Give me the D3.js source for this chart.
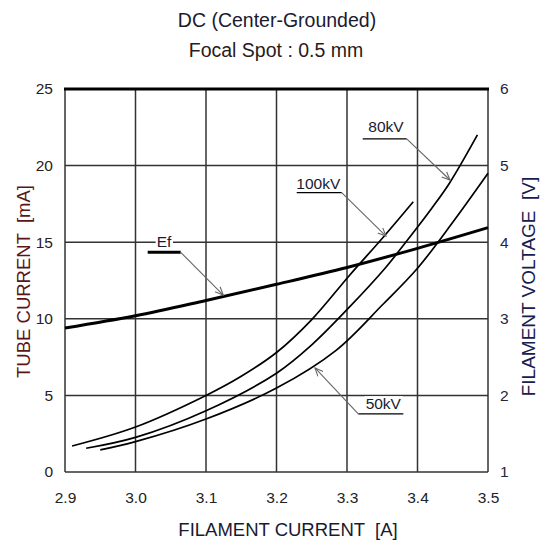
<!DOCTYPE html>
<html><head><meta charset="utf-8">
<script src="https://cdn.jsdelivr.net/npm/d3@7"></script>
<style>
html,body{margin:0;padding:0;background:#fff;}
text{font-family:"Liberation Sans",Arial,sans-serif;white-space:pre;}
</style>
</head><body>
<svg id="chart" width="542" height="540"></svg>
<script>
// ---- data ----
const titleLines = ["DC (Center-Grounded)", "Focal Spot : 0.5 mm"];
const xTicks = [2.9, 3.0, 3.1, 3.2, 3.3, 3.4, 3.5];
const xTickLabels = ["2.9", "3.0", "3.1", "3.2", "3.3", "3.4", "3.5"];
const yLeftTicks = [0, 5, 10, 15, 20, 25];
const yRightTicks = [1, 2, 3, 4, 5, 6];
const xTitle = "FILAMENT CURRENT  [A]";
const yLeftTitle = "TUBE CURRENT  [mA]";
const yRightTitle = "FILAMENT VOLTAGE  [V]";

const efX = [2.9, 3.0, 3.1, 3.2, 3.3, 3.4, 3.5];
const efV = [2.88, 3.04, 3.24, 3.45, 3.67, 3.92, 4.19];

const kv100X = [2.91, 3.0, 3.1, 3.15, 3.2, 3.25, 3.304, 3.352, 3.394];
const kv100Y = [1.70, 2.94, 5.0, 6.25, 7.8, 9.95, 12.86, 15.36, 17.64];

const kv80X = [2.93, 3.0, 3.1, 3.2, 3.25, 3.304, 3.354, 3.38, 3.42, 3.446, 3.485];
const kv80Y = [1.55, 2.26, 4.0, 6.45, 8.3, 10.79, 13.3, 14.8, 17.2, 18.9, 22.0];

const kv50X = [2.95, 3.0, 3.1, 3.2, 3.285, 3.35, 3.4, 3.45, 3.5];
const kv50Y = [1.44, 1.98, 3.46, 5.48, 7.96, 10.9, 13.3, 16.3, 19.5];

// annotation: label, text anchor (x,mA), underline x-range and level, arrow tip
const annLabels = ["Ef", "80kV", "100kV", "50kV"];
const annTextX = [3.0404, 3.3553, 3.2593, 3.3515];
const annTextY = [14.7, 22.2, 18.5, 4.1];
const annLineX0 = [3.0173, 3.3223, 3.2287, 3.316];
const annLineX1 = [3.0641, 3.3847, 3.2925, 3.3799];
const annLineY = [14.34, 21.74, 18.23, 3.79];
const annTipX = [3.1245, 3.4461, 3.3553, 3.2546];
const annTipY = [11.55, 19.06, 15.40, 6.79];

// ---- layout ----
const L = 65, R = 488, T = 89, B = 472;
const svg = d3.select("#chart");
const x = d3.scaleLinear().domain([2.9, 3.5]).range([L, R]);
const yL = d3.scaleLinear().domain([0, 25]).range([B, T]);
const yR = d3.scaleLinear().domain([1, 6]).range([B, T]);

const gridColor = "#333";
// grid
svg.append("g").selectAll("line").data(xTicks).join("line")
  .attr("x1", d => x(d)).attr("x2", d => x(d)).attr("y1", T).attr("y2", B)
  .attr("stroke", gridColor).attr("stroke-width", 1.5);
svg.append("g").selectAll("line").data(yLeftTicks).join("line")
  .attr("x1", L).attr("x2", R).attr("y1", d => yL(d)).attr("y2", d => yL(d))
  .attr("stroke", gridColor).attr("stroke-width", 1.5);
// top border thick
svg.append("line").attr("x1", L - 1).attr("x2", R + 1).attr("y1", T).attr("y2", T)
  .attr("stroke", "#000").attr("stroke-width", 3);

// axes (labels only)
const axB = svg.append("g").attr("transform", `translate(0,${B})`)
  .call(d3.axisBottom(x).tickValues(xTicks).tickFormat((d, i) => xTickLabels[i]).tickSize(0).tickPadding(20));
const axL = svg.append("g").attr("transform", `translate(${L},0)`)
  .call(d3.axisLeft(yL).tickValues(yLeftTicks).tickFormat(d3.format("d")).tickSize(0).tickPadding(12));
const axR = svg.append("g").attr("transform", `translate(${R},0)`)
  .call(d3.axisRight(yR).tickValues(yRightTicks).tickFormat(d3.format("d")).tickSize(0).tickPadding(12));
[axB, axL, axR].forEach(a => {
  a.select(".domain").remove();
  a.selectAll("text").attr("font-size", 15.5).attr("font-family", "Liberation Sans, Arial, sans-serif");
});
axB.selectAll("text").attr("fill", "#222");
axL.selectAll("text").attr("fill", "#2a2020");
axR.selectAll("text").attr("fill", "#1e2640");

// titles
svg.append("text").attr("x", 277).attr("y", 27).attr("text-anchor", "middle")
  .attr("font-size", 19.5).attr("fill", "#1a1a30").text(titleLines[0]);
svg.append("text").attr("x", 276).attr("y", 56.5).attr("text-anchor", "middle")
  .attr("font-size", 19.5).attr("fill", "#2a1a1a").text(titleLines[1]);
svg.append("text").attr("x", 288).attr("y", 536).attr("text-anchor", "middle")
  .attr("font-size", 18.5).attr("fill", "#1a1a30").text(xTitle);
svg.append("text").attr("transform", `translate(30,${281.5}) rotate(-90)`).attr("text-anchor", "middle")
  .attr("font-size", 18.5).attr("fill", "#5a1616").text(yLeftTitle);
svg.append("text").attr("transform", `translate(535,${286.5}) rotate(-90)`).attr("text-anchor", "middle")
  .attr("font-size", 19).attr("fill", "#162050").text(yRightTitle);

// curves
const lineL = d3.line().x(d => x(d[0])).y(d => yL(d[1])).curve(d3.curveCatmullRom.alpha(0.5));
const lineR = d3.line().x(d => x(d[0])).y(d => yR(d[1])).curve(d3.curveCatmullRom.alpha(0.5));
const zip = (a, b) => a.map((v, i) => [v, b[i]]);
[[kv100X, kv100Y], [kv80X, kv80Y], [kv50X, kv50Y]].forEach(([xs, ys]) => {
  svg.append("path").attr("d", lineL(zip(xs, ys))).attr("fill", "none")
    .attr("stroke", "#000").attr("stroke-width", 1.7);
});
svg.append("path").attr("d", lineR(zip(efX, efV))).attr("fill", "none")
  .attr("stroke", "#000").attr("stroke-width", 3);

// annotations
svg.append("defs").append("marker").attr("id", "arr").attr("viewBox", "0 0 10 10")
  .attr("refX", 9).attr("refY", 5).attr("markerWidth", 9).attr("markerHeight", 9)
  .attr("markerUnits", "userSpaceOnUse").attr("orient", "auto")
  .append("path").attr("d", "M0,1 L9,5 L0,9").attr("fill", "none").attr("stroke", "#666").attr("stroke-width", 1.2);

annLabels.forEach((lab, i) => {
  const tx = x(annTextX[i]), ty = yL(annTextY[i]);
  const t = svg.append("text").attr("x", tx).attr("y", ty).attr("text-anchor", "middle")
    .attr("font-size", 15.5).attr("fill", "#1a1a30").text(lab);
  const bb = t.node().getBBox();
  svg.insert("rect", () => t.node()).attr("x", bb.x - 1).attr("y", bb.y + 1).attr("width", bb.width + 2).attr("height", bb.height - 2)
    .attr("fill", "#fff");
  const ux0 = x(annLineX0[i]), ux1 = x(annLineX1[i]), uy = yL(annLineY[i]);
  svg.append("line").attr("x1", ux0).attr("x2", ux1).attr("y1", uy).attr("y2", uy)
    .attr("stroke", "#000").attr("stroke-width", i === 0 ? 3 : 1.3);
  const sx = lab === "50kV" ? ux0 : ux1;
  svg.append("line").attr("x1", sx).attr("y1", uy).attr("x2", x(annTipX[i])).attr("y2", yL(annTipY[i]))
    .attr("stroke", "#666").attr("stroke-width", 1.1).attr("marker-end", "url(#arr)");
});
</script>
</body></html>
